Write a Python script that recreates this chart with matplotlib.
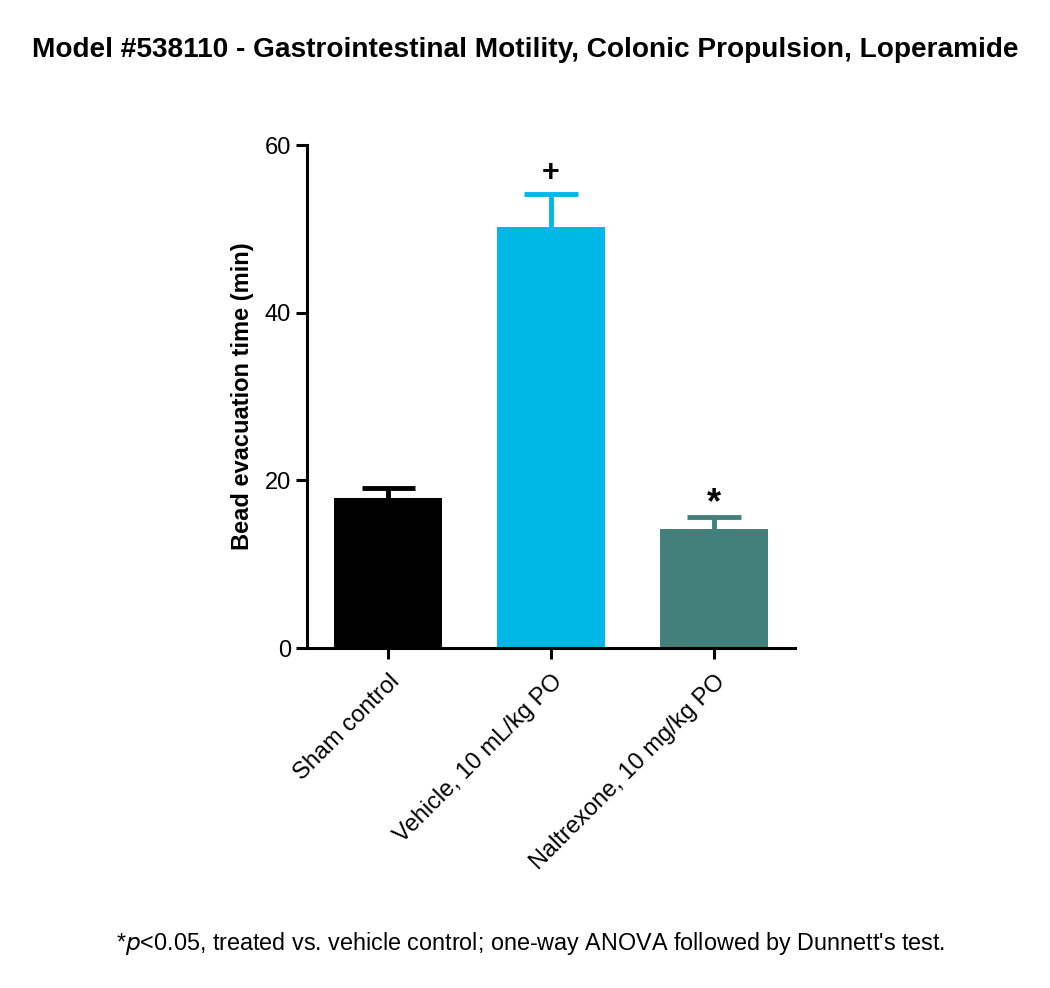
import numpy as np
import matplotlib
matplotlib.use('Agg')
import matplotlib.pyplot as plt

plt.rcParams['font.family'] = ['Liberation Sans', 'DejaVu Sans']

groups = ['Sham control', 'Vehicle, 10 mL/kg PO', 'Naltrexone, 10 mg/kg PO']
means = [17.9, 50.3, 14.2]
sems = [1.2, 3.9, 1.5]
marks = ['', '+', '*']
colors = ['#000000', '#00b8e6', '#43807c']

fig = plt.figure(figsize=(10.5, 9.88), dpi=100)
ax = fig.add_axes([0.2924, 0.344, 0.4648, 0.509])

x = np.arange(len(groups))
ax.bar(x, means, width=0.665, color=colors, zorder=2)
cap_half = 0.165
for i in range(len(groups)):
    top = means[i] + sems[i]
    # only the upper half of the error bar, like the original
    ax.plot([x[i], x[i]], [means[i], top], color=colors[i], lw=3.5, zorder=1,
            solid_capstyle='butt')
    ax.plot([x[i] - cap_half, x[i] + cap_half], [top, top], color=colors[i], lw=3.5,
            zorder=1, solid_capstyle='butt')
    if marks[i] == '+':
        ax.text(x[i], top + 0.7, marks[i], ha='center', va='bottom',
                fontsize=22, fontweight='bold')
    elif marks[i] == '*':
        ax.text(x[i], top - 0.5, marks[i], ha='center', va='bottom',
                fontsize=26, fontweight='bold')

ax.set_xlim(-0.5, 2.5)
ax.set_ylim(0, 60)
ax.set_yticks([0, 20, 40, 60])
ax.set_xticks(x)
ax.set_xticklabels(groups, rotation=45, ha='right', rotation_mode='anchor', fontsize=17)
ax.tick_params(axis='y', labelsize=17, width=2.2, length=8)
ax.tick_params(axis='x', width=2.2, length=8, pad=8)
for s in ['top', 'right']:
    ax.spines[s].set_visible(False)
for s in ['left', 'bottom']:
    ax.spines[s].set_linewidth(2.2)
ax.set_ylabel('Bead evacuation time (min)', fontsize=17, fontweight='bold', labelpad=8)

fig.suptitle('Model #538110 - Gastrointestinal Motility, Colonic Propulsion, Loperamide',
             x=0.5, y=0.963, fontsize=20.2, fontweight='bold')
fig.text(0.505, 0.038, r"*$\it{p}$<0.05, treated vs. vehicle control; one-way ANOVA followed by Dunnett's test.",
         ha='center', fontsize=16.8)

fig.savefig('out.png', dpi=100)
